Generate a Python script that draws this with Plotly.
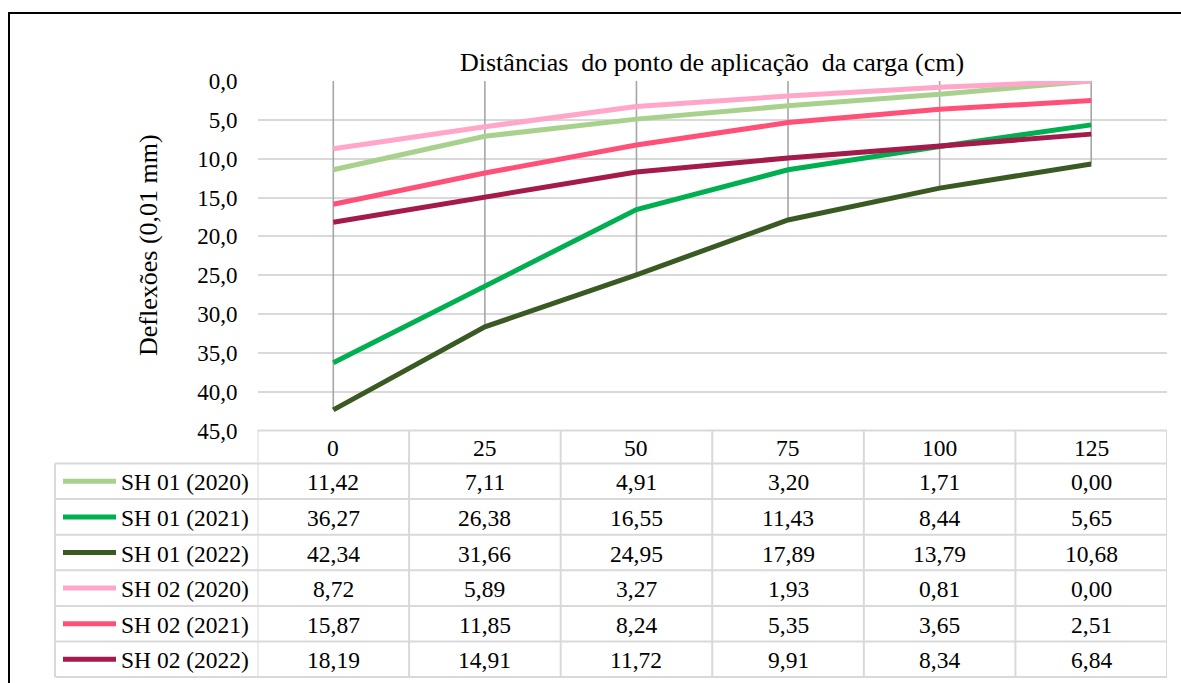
import plotly.graph_objects as go

W, H = 1181, 683

categories = ["0", "25", "50", "75", "100", "125"]
series_names = ["SH 01 (2020)", "SH 01 (2021)", "SH 01 (2022)",
                "SH 02 (2020)", "SH 02 (2021)", "SH 02 (2022)"]
sh01_2020 = [11.42, 7.11, 4.91, 3.20, 1.71, 0.00]
sh01_2021 = [36.27, 26.38, 16.55, 11.43, 8.44, 5.65]
sh01_2022 = [42.34, 31.66, 24.95, 17.89, 13.79, 10.68]
sh02_2020 = [8.72, 5.89, 3.27, 1.93, 0.81, 0.00]
sh02_2021 = [15.87, 11.85, 8.24, 5.35, 3.65, 2.51]
sh02_2022 = [18.19, 14.91, 11.72, 9.91, 8.34, 6.84]
series_values = [sh01_2020, sh01_2021, sh01_2022, sh02_2020, sh02_2021, sh02_2022]
colors = ["#a9d18e", "#00b050", "#3a5a23", "#ffa6c9", "#ff5078", "#a31a4b"]

y_ticks = [0, 5, 10, 15, 20, 25, 30, 35, 40, 45]

FONT = "Liberation Serif"
FS = 23.5
TICK_FS = 23


def px(x):
    return x / W


def py(y):
    return 1 - y / H


fig = go.Figure()

# drop lines from axis (0) to each point
dx, dy = [], []
for i, c in enumerate(categories):
    mx = max(s[i] for s in series_values)
    dx += [c, c, None]
    dy += [0, mx, None]
fig.add_trace(go.Scatter(x=dx, y=dy, mode="lines",
                         line=dict(color="#a6a6a6", width=1.6),
                         hoverinfo="skip", showlegend=False))

for name, vals, col in zip(series_names, series_values, colors):
    fig.add_trace(go.Scatter(x=categories, y=vals, mode="lines", name=name,
                             line=dict(color=col, width=5),
                             showlegend=False))

plot_l, plot_r = 257.5, 1167
plot_t, plot_b = 81, 430.5

fig.update_layout(
    width=W, height=H, autosize=False,
    margin=dict(l=0, r=0, t=0, b=0, pad=0, autoexpand=False),
    paper_bgcolor="white", plot_bgcolor="white",
    showlegend=False,
    separators=", ",
    font=dict(family=FONT, size=FS, color="black"),
    xaxis=dict(type="category", categoryorder="array", categoryarray=categories,
               range=[-0.5, len(categories) - 0.5],
               domain=[px(plot_l), px(plot_r)], automargin=False,
               showticklabels=False, showgrid=False, zeroline=False,
               showline=False, ticks=""),
    yaxis=dict(range=[45, 0], domain=[py(plot_b), py(plot_t)], automargin=False,
               tickvals=y_ticks, tickformat=".1f",
               showgrid=True, gridcolor="#d9d9d9", gridwidth=1.5,
               zeroline=False, showline=False, ticks="",
               ticklabelstandoff=19,
               tickfont=dict(family=FONT, size=TICK_FS, color="black")),
)

shapes = []
grid_c = "#d9d9d9"
# outer frame
shapes.append(dict(type="rect", xref="paper", yref="paper",
                   x0=px(9), x1=1.05, y0=-0.05, y1=py(13),
                   line=dict(color="black", width=2), fillcolor="rgba(0,0,0,0)"))

header_top = 430.5
header_bot = 463.5
row_h = 35.6
n_rows = len(series_names)
rows_y = [header_bot + i * row_h for i in range(n_rows + 1)]
legend_l = 55

# horizontal table lines
shapes.append(dict(type="line", xref="paper", yref="paper",
                   x0=px(plot_l), x1=px(plot_r), y0=py(header_top), y1=py(header_top),
                   line=dict(color=grid_c, width=2)))
for yy in rows_y:
    shapes.append(dict(type="line", xref="paper", yref="paper",
                       x0=px(legend_l), x1=px(plot_r), y0=py(yy), y1=py(yy),
                       line=dict(color=grid_c, width=2)))
# vertical table lines
shapes.append(dict(type="line", xref="paper", yref="paper",
                   x0=px(legend_l), x1=px(legend_l), y0=py(header_bot), y1=py(rows_y[-1]),
                   line=dict(color=grid_c, width=2)))
for k in range(len(categories) + 1):
    shapes.append(dict(type="line", xref="x", yref="paper",
                       x0=k - 0.5, x1=k - 0.5, y0=py(header_top), y1=py(rows_y[-1]),
                       line=dict(color=grid_c, width=2)))

annotations = []
# header
for i, c in enumerate(categories):
    annotations.append(dict(x=i, y=py((header_top + header_bot) / 2 + 1),
                            xref="x", yref="paper", text=c, showarrow=False,
                            font=dict(family=FONT, size=FS, color="black"),
                            xanchor="center", yanchor="middle"))
# rows
for r, (name, vals, col) in enumerate(zip(series_names, series_values, colors)):
    yc = (rows_y[r] + rows_y[r + 1]) / 2
    shapes.append(dict(type="line", xref="paper", yref="paper",
                       x0=px(63), x1=px(116), y0=py(yc), y1=py(yc),
                       line=dict(color=col, width=5)))
    annotations.append(dict(x=px(119), y=py(yc + 1), xref="paper", yref="paper",
                            text=name, showarrow=False, xanchor="left", yanchor="middle",
                            font=dict(family=FONT, size=23.5, color="black")))
    for i, v in enumerate(vals):
        annotations.append(dict(x=i, y=py(yc + 1), xref="x", yref="paper",
                                text=f"{v:.2f}".replace(".", ","), showarrow=False,
                                xanchor="center", yanchor="middle",
                                font=dict(family=FONT, size=FS, color="black")))

# axis titles
annotations.append(dict(x=0.5, y=py(63), xref="x domain", yref="paper",
                        text="Distâncias  do ponto de aplicação  da carga (cm)",
                        showarrow=False, xanchor="center", yanchor="middle",
                        font=dict(family=FONT, size=26, color="black")))
annotations.append(dict(x=px(148), y=py(245), xref="paper", yref="paper",
                        text="Deflexões (0,01 mm)", textangle=-90,
                        showarrow=False, xanchor="center", yanchor="middle",
                        font=dict(family=FONT, size=26, color="black")))

fig.update_layout(shapes=shapes, annotations=annotations)

fig.write_html("out.html",
               config={"displayModeBar": False, "responsive": False},
               post_script="document.body.style.margin='0';"
                           "document.body.style.overflow='hidden';")
